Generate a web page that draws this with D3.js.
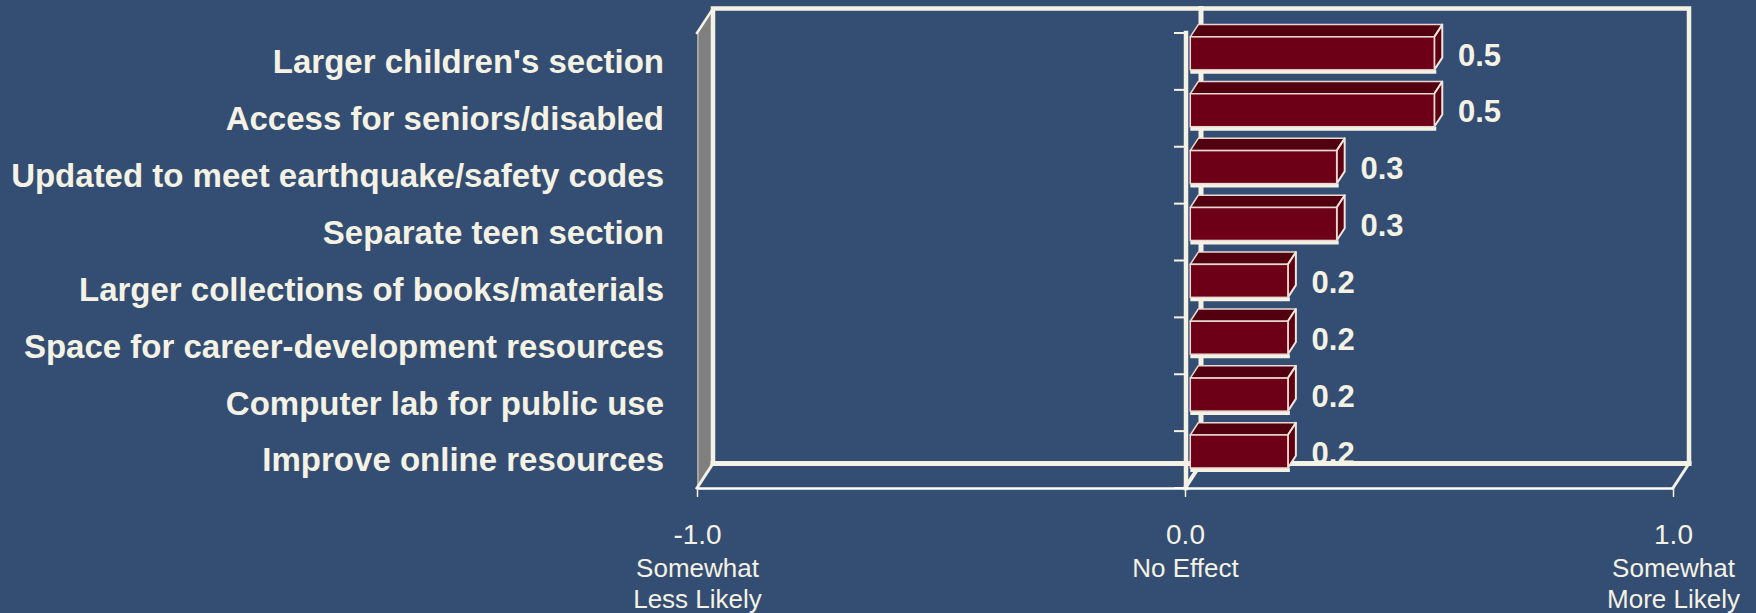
<!DOCTYPE html>
<html>
<head>
<meta charset="utf-8">
<script src="https://cdn.jsdelivr.net/npm/d3@7"></script>
<style>
  html, body { margin: 0; padding: 0; background: #344e73; }
  svg { display: block; }
</style>
</head>
<body>
<svg id="chart" width="1756" height="613"></svg>
<script>
// ---- data ----
const categories = [
  "Larger children's section",
  "Access for seniors/disabled",
  "Updated to meet earthquake/safety codes",
  "Separate teen section",
  "Larger collections of books/materials",
  "Space for career-development resources",
  "Computer lab for public use",
  "Improve online resources"
];
const values = [0.5, 0.5, 0.3, 0.3, 0.2, 0.2, 0.2, 0.2];
const valueLabels = ["0.5", "0.5", "0.3", "0.3", "0.2", "0.2", "0.2", "0.2"];
const xTicks = [-1, 0, 1];
const xTickLabels = ["-1.0", "0.0", "1.0"];
const xTickNotes = [["Somewhat", "Less Likely"], ["No Effect"], ["Somewhat", "More Likely"]];

// ---- layout ----
const W = 1756, H = 613;
const cream = "#f4f2e4";
const front = { left: 697, right: 1673, top: 33, bottom: 488 };
const depth = { dx: 16, dy: -24.5 };
const barDepth0 = 0.33, barDepth1 = 0.83;
const FONT = "Liberation Sans, Arial, sans-serif";

const svg = d3.select("#chart");
svg.append("rect").attr("width", W).attr("height", H).attr("fill", "#344e73");

const x = d3.scaleLinear().domain([-1, 1]).range([front.left, front.right]);
const y = d3.scaleBand().domain(categories).range([front.top, front.bottom])
  .paddingInner(0.42).paddingOuter(0.21);

const x0 = x(0);
const bx = t => depth.dx * t, by = t => depth.dy * t;

// gray side (left) wall
svg.append("path")
  .attr("d", `M${x(-1)},${front.top}L${x(-1) + depth.dx},${front.top + depth.dy}L${x(-1) + depth.dx},${front.bottom + depth.dy}L${x(-1)},${front.bottom}Z`)
  .attr("fill", "#7f7f7f");
svg.append("line")
  .attr("x1", x(-1) + 1).attr("x2", x(-1) + 1)
  .attr("y1", front.top).attr("y2", front.bottom)
  .attr("stroke", "#a3a3a3").attr("stroke-width", 2);

// data labels (drawn before walls: the back floor edge overlaps the last one)
svg.append("g").selectAll("text").data(values).join("text")
  .attr("x", d => x(d) + 29)
  .attr("y", (d, i) => y(categories[i]) + by(barDepth0) + y.bandwidth() / 2 + 1)
  .attr("dy", "0.36em")
  .attr("font-family", FONT)
  .attr("font-weight", "bold")
  .attr("font-size", 31)
  .attr("fill", cream)
  .text((d, i) => valueLabels[i]);

// back wall edges
const bl = x(-1) + depth.dx, br = x(1) + depth.dx;
const bt = front.top + depth.dy, bb = front.bottom + depth.dy;
const walls = svg.append("g").attr("fill", "none").attr("stroke", cream).attr("stroke-linecap", "square");
walls.append("path").attr("d", `M${bl},${bb}L${bl},${bt}L${br},${bt}L${br},${bb}`).attr("stroke-width", 4.5);
walls.append("line").attr("x1", bl).attr("x2", br).attr("y1", bb).attr("y2", bb).attr("stroke-width", 5);
// zero line on back wall
walls.append("line").attr("x1", x0 + depth.dx).attr("x2", x0 + depth.dx).attr("y1", bt).attr("y2", bb).attr("stroke-width", 5);
// diagonals
walls.append("line").attr("x1", x(-1)).attr("y1", front.top).attr("x2", bl).attr("y2", bt).attr("stroke-width", 2.5);
walls.append("line").attr("x1", x(-1)).attr("y1", front.bottom).attr("x2", bl).attr("y2", bb).attr("stroke-width", 3);
walls.append("line").attr("x1", x(1)).attr("y1", front.bottom).attr("x2", br).attr("y2", bb).attr("stroke-width", 3);
walls.append("line").attr("x1", x0).attr("y1", front.bottom).attr("x2", x0 + depth.dx).attr("y2", bb).attr("stroke-width", 4);

// vertical (category) axis at zero, front plane
walls.append("line").attr("x1", x0 + 1).attr("x2", x0 + 1).attr("y1", front.top).attr("y2", front.bottom).attr("stroke-width", 4.5);
// category boundary ticks
const step = y.step();
const boundaries = d3.range(categories.length + 1).map(i => front.top + i * step);
svg.append("g").selectAll("line").data(boundaries).join("line")
  .attr("x1", x0 - 11).attr("x2", x0)
  .attr("y1", d => d).attr("y2", d => d)
  .attr("stroke", cream).attr("stroke-width", 2);

// bars (3D)
const bars = svg.append("g");
categories.forEach((c, i) => {
  const v = values[i];
  const xa = x0 + bx(barDepth0), xb = x(v) + bx(barDepth0);
  const ya = y(c) + by(barDepth0), yb = ya + y.bandwidth();
  const ddx = bx(barDepth1 - barDepth0), ddy = by(barDepth1 - barDepth0);
  const g = bars.append("g");
  g.append("line").attr("x1", xa).attr("x2", xb + 2).attr("y1", yb + 2).attr("y2", yb + 2)
    .attr("stroke", cream).attr("stroke-width", 4);
  g.append("path")
    .attr("d", `M${xa},${ya}L${xb},${ya}L${xb + ddx},${ya + ddy}L${xa + ddx},${ya + ddy}Z`)
    .attr("fill", "#52000f").attr("stroke", "#e9d9d2").attr("stroke-width", 1.5).attr("stroke-linejoin", "round");
  g.append("path")
    .attr("d", `M${xb},${ya}L${xb + ddx},${ya + ddy}L${xb + ddx},${yb + ddy}L${xb},${yb}Z`)
    .attr("fill", "#5c0012").attr("stroke", "#f0e6dc").attr("stroke-width", 2).attr("stroke-linejoin", "round");
  g.append("rect")
    .attr("x", xa).attr("y", ya).attr("width", xb - xa).attr("height", yb - ya)
    .attr("fill", "#6d0017").attr("stroke", "#e9d9d2").attr("stroke-width", 1.5);
});

// front floor edge + x axis
const xAxis = d3.axisBottom(x)
  .tickValues(xTicks)
  .tickSize(9)
  .tickSizeOuter(0)
  .tickPadding(27)
  .tickFormat((d, i) => xTickLabels[i]);
const gx = svg.append("g").attr("transform", `translate(0,${front.bottom})`).call(xAxis);
gx.select(".domain").attr("stroke", "#ffffff").attr("stroke-width", 2.5);
gx.selectAll(".tick line").attr("stroke", cream).attr("stroke-width", 1.5);
gx.selectAll(".tick text")
  .attr("font-family", FONT)
  .attr("font-size", 28)
  .attr("fill", cream)
  .each(function (d, i) {
    const t = d3.select(this);
    xTickNotes[i].forEach((line, k) => {
      t.append("tspan").attr("x", 0).attr("dy", k === 0 ? 33 : 31)
        .attr("font-size", 26).text(line);
    });
  });

// category labels
svg.append("g").selectAll("text").data(categories).join("text")
  .attr("x", 664)
  .attr("y", d => y(d) + y.bandwidth() / 2)
  .attr("dy", "0.36em")
  .attr("text-anchor", "end")
  .attr("font-family", FONT)
  .attr("font-weight", "bold")
  .attr("font-size", 33)
  .attr("fill", cream)
  .text(d => d);
</script>
</body>
</html>
